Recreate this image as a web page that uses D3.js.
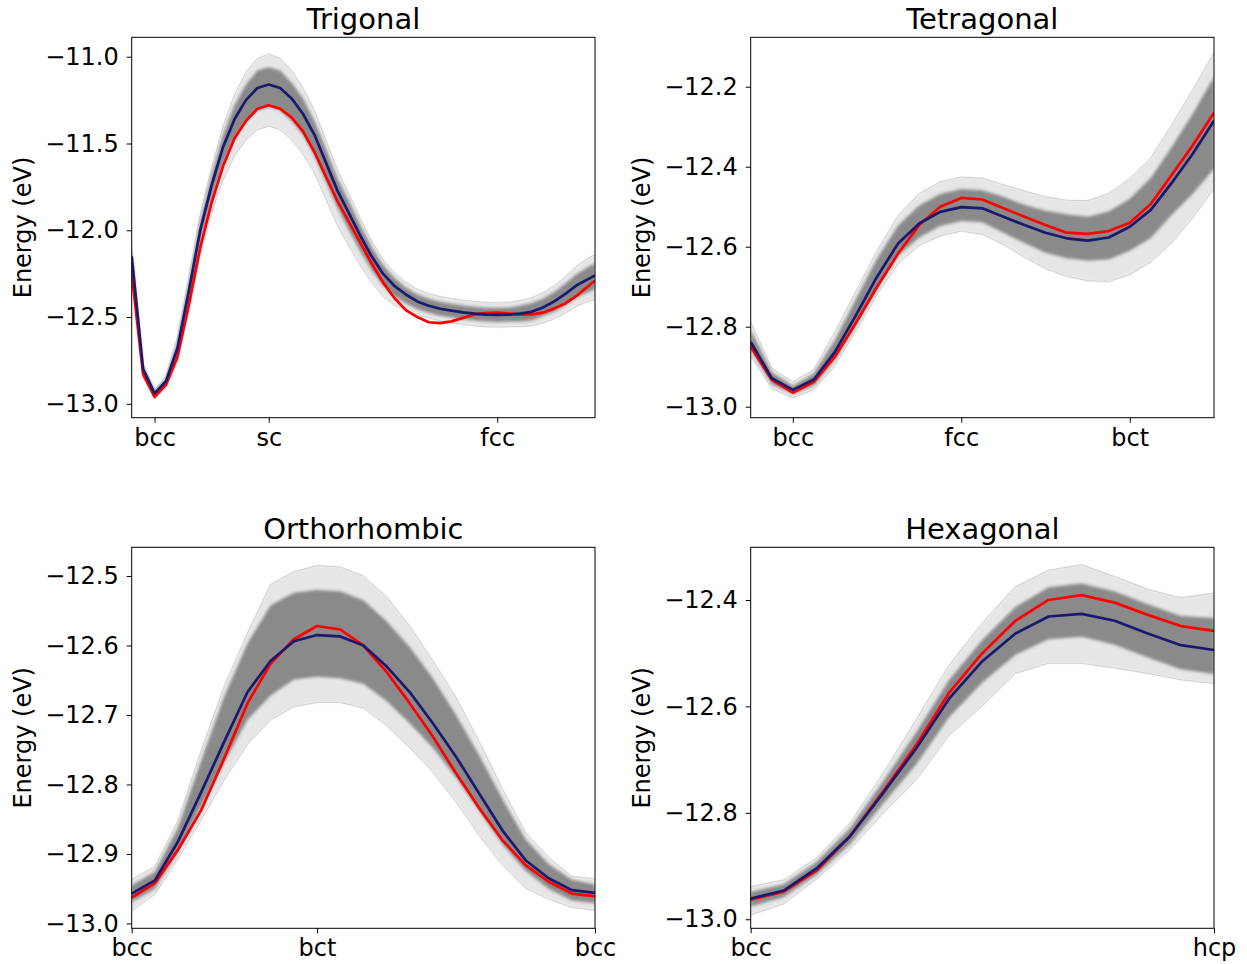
<!DOCTYPE html>
<html><head><meta charset="utf-8">
<script src="https://cdn.jsdelivr.net/npm/d3@7"></script>
<style>
html,body{margin:0;padding:0;background:#fff;}
svg{display:block;font-family:"DejaVu Sans",sans-serif;}
</style></head><body>
<svg id="chart" width="1247" height="964"></svg>
<script>
// ---------- Trigonal ----------
const trigX = d3.range(41).concat([40.56]);
const trigTickPos = [2, 12, 32];
const trigTickLabels = ["bcc", "sc", "fcc"];
const trigYTicks = [-13.0, -12.5, -12.0, -11.5, -11.0];
const trigMean = [-12.15,-12.80,-12.94,-12.87,-12.68,-12.35,-12.00,-11.74,-11.52,-11.36,-11.25,-11.18,-11.16,-11.18,-11.24,-11.33,-11.45,-11.61,-11.77,-11.90,-12.03,-12.15,-12.25,-12.32,-12.37,-12.41,-12.435,-12.452,-12.463,-12.473,-12.48,-12.486,-12.488,-12.486,-12.48,-12.47,-12.445,-12.41,-12.365,-12.315,-12.28,-12.26];
const trigRef = [-12.25,-12.83,-12.96,-12.89,-12.73,-12.43,-12.10,-11.84,-11.63,-11.47,-11.37,-11.30,-11.28,-11.30,-11.35,-11.43,-11.55,-11.69,-11.83,-11.95,-12.07,-12.19,-12.30,-12.39,-12.46,-12.50,-12.53,-12.535,-12.525,-12.505,-12.485,-12.477,-12.475,-12.48,-12.485,-12.485,-12.475,-12.45,-12.42,-12.375,-12.32,-12.29];
const trigUpOuter = [0.06,0.03,0.02,0.03,0.06,0.08,0.09,0.10,0.12,0.14,0.16,0.17,0.175,0.17,0.16,0.15,0.14,0.13,0.12,0.11,0.10,0.09,0.08,0.075,0.07,0.07,0.07,0.07,0.07,0.07,0.07,0.07,0.07,0.07,0.075,0.08,0.085,0.09,0.10,0.11,0.12,0.12];
const trigUpInner = [0.03,0.015,0.01,0.015,0.03,0.04,0.05,0.06,0.07,0.08,0.09,0.10,0.10,0.10,0.09,0.09,0.08,0.08,0.07,0.07,0.06,0.055,0.05,0.045,0.04,0.04,0.04,0.04,0.04,0.04,0.04,0.04,0.04,0.04,0.045,0.05,0.05,0.055,0.06,0.065,0.07,0.07];
const trigLoInner = [0.05,0.02,0.015,0.02,0.04,0.06,0.07,0.08,0.10,0.11,0.12,0.13,0.13,0.13,0.13,0.12,0.12,0.11,0.10,0.10,0.09,0.08,0.07,0.06,0.05,0.045,0.04,0.04,0.04,0.04,0.04,0.04,0.04,0.04,0.045,0.05,0.05,0.06,0.065,0.07,0.075,0.08];
const trigLoOuter = [0.10,0.04,0.03,0.04,0.08,0.12,0.14,0.16,0.19,0.21,0.23,0.24,0.24,0.24,0.24,0.23,0.22,0.21,0.20,0.19,0.17,0.15,0.13,0.11,0.09,0.08,0.07,0.07,0.07,0.07,0.07,0.07,0.07,0.07,0.075,0.08,0.09,0.10,0.11,0.12,0.13,0.14];

// ---------- Tetragonal ----------
const tetX = d3.range(23);
const tetTickPos = [2, 10, 18];
const tetTickLabels = ["bcc", "fcc", "bct"];
const tetYTicks = [-13.0, -12.8, -12.6, -12.4, -12.2];
const tetMean = [-12.838,-12.929,-12.958,-12.932,-12.863,-12.771,-12.675,-12.592,-12.542,-12.513,-12.501,-12.504,-12.525,-12.546,-12.565,-12.579,-12.585,-12.577,-12.55,-12.508,-12.44,-12.367,-12.285];
const tetRef = [-12.85,-12.933,-12.965,-12.938,-12.875,-12.79,-12.70,-12.617,-12.546,-12.50,-12.478,-12.482,-12.504,-12.525,-12.546,-12.565,-12.568,-12.561,-12.54,-12.493,-12.42,-12.346,-12.265];
const tetUpOuter = [0.05,0.025,0.02,0.025,0.05,0.06,0.065,0.07,0.075,0.075,0.075,0.075,0.08,0.085,0.09,0.095,0.10,0.11,0.12,0.13,0.145,0.16,0.17];
const tetUpInner = [0.03,0.015,0.01,0.015,0.03,0.04,0.045,0.045,0.045,0.045,0.045,0.045,0.05,0.05,0.055,0.06,0.06,0.065,0.07,0.08,0.09,0.10,0.11];
const tetLoInner = [0.02,0.015,0.01,0.015,0.02,0.025,0.03,0.03,0.035,0.035,0.035,0.035,0.04,0.045,0.05,0.05,0.05,0.055,0.06,0.07,0.08,0.10,0.12];
const tetLoOuter = [0.035,0.025,0.02,0.025,0.035,0.04,0.045,0.05,0.055,0.06,0.06,0.065,0.07,0.08,0.09,0.095,0.10,0.11,0.12,0.13,0.15,0.16,0.17];

// ---------- Orthorhombic ----------
const orthoX = d3.range(21);
const orthoTickPos = [0, 8, 20];
const orthoTickLabels = ["bcc", "bct", "bcc"];
const orthoYTicks = [-13.0, -12.9, -12.8, -12.7, -12.6, -12.5];
const orthoMean = [-12.957,-12.938,-12.882,-12.811,-12.738,-12.667,-12.622,-12.594,-12.585,-12.587,-12.60,-12.63,-12.667,-12.712,-12.76,-12.813,-12.866,-12.909,-12.935,-12.952,-12.956];
const orthoRef = [-12.963,-12.942,-12.894,-12.837,-12.762,-12.683,-12.626,-12.591,-12.572,-12.577,-12.60,-12.638,-12.683,-12.731,-12.784,-12.834,-12.88,-12.916,-12.94,-12.957,-12.961];
const orthoUpOuter = [0.02,0.02,0.03,0.06,0.08,0.085,0.11,0.10,0.10,0.10,0.10,0.10,0.095,0.09,0.085,0.075,0.06,0.04,0.03,0.02,0.02];
const orthoUpInner = [0.012,0.012,0.02,0.045,0.065,0.07,0.08,0.07,0.065,0.065,0.065,0.065,0.065,0.065,0.06,0.055,0.045,0.03,0.02,0.015,0.012];
const orthoLoInner = [0.012,0.012,0.015,0.02,0.03,0.04,0.05,0.055,0.06,0.06,0.055,0.05,0.045,0.035,0.03,0.025,0.02,0.015,0.015,0.015,0.015];
const orthoLoOuter = [0.025,0.02,0.025,0.04,0.055,0.075,0.085,0.094,0.097,0.095,0.09,0.085,0.08,0.07,0.065,0.06,0.05,0.04,0.03,0.025,0.025];

// ---------- Hexagonal ----------
const hexX = d3.range(15);
const hexTickPos = [0, 14];
const hexTickLabels = ["bcc", "hcp"];
const hexYTicks = [-13.0, -12.8, -12.6, -12.4];
const hexMean = [-12.961,-12.946,-12.904,-12.844,-12.763,-12.679,-12.585,-12.515,-12.463,-12.431,-12.426,-12.439,-12.463,-12.485,-12.494];
const hexRef = [-12.963,-12.948,-12.908,-12.844,-12.76,-12.673,-12.574,-12.50,-12.439,-12.40,-12.391,-12.405,-12.428,-12.449,-12.458];
const hexUpOuter = [0.022,0.02,0.02,0.025,0.037,0.054,0.063,0.072,0.088,0.087,0.092,0.083,0.083,0.089,0.107];
const hexUpInner = [0.012,0.012,0.012,0.015,0.022,0.03,0.035,0.04,0.05,0.055,0.057,0.055,0.055,0.055,0.06];
const hexLoInner = [0.015,0.012,0.012,0.015,0.02,0.03,0.035,0.04,0.04,0.043,0.043,0.045,0.045,0.045,0.045];
const hexLoOuter = [0.031,0.025,0.02,0.025,0.038,0.059,0.069,0.084,0.075,0.088,0.093,0.089,0.075,0.065,0.063];

const titles = ["Trigonal", "Tetragonal", "Orthorhombic", "Hexagonal"];
const yLabel = "Energy (eV)";

// ---------- layout ----------
const svg = d3.select("#chart");
const defs = svg.append("defs");
const blur = defs.append("filter").attr("id", "soft")
  .attr("x", "-5%").attr("y", "-20%").attr("width", "110%").attr("height", "140%");
blur.append("feGaussianBlur").attr("stdDeviation", 1.6);
const blur2 = defs.append("filter").attr("id", "soft2")
  .attr("x", "-5%").attr("y", "-20%").attr("width", "110%").attr("height", "140%");
blur2.append("feGaussianBlur").attr("stdDeviation", 1.0);

const colLeft = [131.7, 750.7], colRight = [595, 1214];
const rowTop = [37.3, 547.3], rowBottom = [417.7, 928.3];

const panels = [
  {title: titles[0], xs: trigX, mean: trigMean, ref: trigRef, uo: trigUpOuter, ui: trigUpInner, li: trigLoInner, lo: trigLoOuter,
   xDomain: [0, 40.56], yDomain: [-13.080, -10.888], tickPos: trigTickPos, tickLabels: trigTickLabels, yTicks: trigYTicks, col: 0, row: 0},
  {title: titles[1], xs: tetX, mean: tetMean, ref: tetRef, uo: tetUpOuter, ui: tetUpInner, li: tetLoInner, lo: tetLoOuter,
   xDomain: [0, 22], yDomain: [-13.0275, -12.0765], tickPos: tetTickPos, tickLabels: tetTickLabels, yTicks: tetYTicks, col: 1, row: 0},
  {title: titles[2], xs: orthoX, mean: orthoMean, ref: orthoRef, uo: orthoUpOuter, ui: orthoUpInner, li: orthoLoInner, lo: orthoLoOuter,
   xDomain: [0, 20], yDomain: [-13.007, -12.4587], tickPos: orthoTickPos, tickLabels: orthoTickLabels, yTicks: orthoYTicks, col: 0, row: 1},
  {title: titles[3], xs: hexX, mean: hexMean, ref: hexRef, uo: hexUpOuter, ui: hexUpInner, li: hexLoInner, lo: hexLoOuter,
   xDomain: [0, 14], yDomain: [-13.017, -12.301], tickPos: hexTickPos, tickLabels: hexTickLabels, yTicks: hexYTicks, col: 1, row: 1}
];

const yFmt = d3.format(".1f");

panels.forEach((p, k) => {
  const L = colLeft[p.col], R = colRight[p.col], T = rowTop[p.row], B = rowBottom[p.row];
  const x = d3.scaleLinear().domain(p.xDomain).range([L, R]);
  const y = d3.scaleLinear().domain(p.yDomain).range([B, T]);
  const g = svg.append("g");
  const clipId = "clip" + k;
  defs.append("clipPath").attr("id", clipId).append("rect")
    .attr("x", L).attr("y", T).attr("width", R - L).attr("height", B - T);

  const pts = p.xs.map((xv, i) => ({
    x: xv, m: p.mean[i], r: p.ref[i],
    uo: p.mean[i] + p.uo[i], ui: p.mean[i] + p.ui[i],
    li: p.mean[i] - p.li[i], lo: p.mean[i] - p.lo[i]
  }));

  const plot = g.append("g").attr("clip-path", `url(#${clipId})`);

  const outer = d3.area().x(d => x(d.x)).y0(d => y(d.lo)).y1(d => y(d.uo));
  const inner = d3.area().x(d => x(d.x)).y0(d => y(d.li)).y1(d => y(d.ui));
  plot.append("path").datum(pts).attr("d", outer)
    .attr("fill", "#808080").attr("fill-opacity", 0.2).attr("filter", "url(#soft2)");
  ["uo", "lo"].forEach(key => {
    plot.append("path").datum(pts)
      .attr("d", d3.line().x(d => x(d.x)).y(d => y(d[key])))
      .attr("fill", "none").attr("stroke", "#c8c8c8").attr("stroke-width", 0.8);
  });
  plot.append("path").datum(pts).attr("d", inner)
    .attr("fill", "#7a7a7a").attr("fill-opacity", 0.85).attr("filter", "url(#soft)");

  plot.append("path").datum(pts)
    .attr("d", d3.line().x(d => x(d.x)).y(d => y(d.r)))
    .attr("fill", "none").attr("stroke", "#ff0000").attr("stroke-width", 2.7)
    .attr("stroke-linejoin", "round");
  plot.append("path").datum(pts)
    .attr("d", d3.line().x(d => x(d.x)).y(d => y(d.m)))
    .attr("fill", "none").attr("stroke", "#191970").attr("stroke-width", 2.7)
    .attr("stroke-linejoin", "round");

  // axes
  const ya = g.append("g").attr("transform", `translate(${L},0)`)
    .call(d3.axisLeft(y).tickValues(p.yTicks).tickFormat(yFmt).tickSize(5).tickPadding(8));
  const xa = g.append("g").attr("transform", `translate(0,${B})`)
    .call(d3.axisBottom(x).tickValues(p.tickPos).tickFormat((d, i) => p.tickLabels[i]).tickSize(5).tickPadding(6));
  [ya, xa].forEach(a => {
    a.select(".domain").remove();
    a.selectAll("line").attr("stroke", "#000").attr("stroke-width", 1);
    a.selectAll("text").attr("fill", "#000").style("font-size", "24px")
      .style("font-family", "'DejaVu Sans', sans-serif");
  });

  // frame
  g.append("rect").attr("x", L).attr("y", T).attr("width", R - L).attr("height", B - T)
    .attr("fill", "none").attr("stroke", "#000").attr("stroke-width", 1);

  // title
  g.append("text").attr("x", (L + R) / 2).attr("y", T - 8.5)
    .attr("text-anchor", "middle").style("font-size", "29px").attr("fill", "#000")
    .text(p.title);

  // y label
  g.append("text")
    .attr("transform", `translate(${L - 100.7},${(T + B) / 2}) rotate(-90)`)
    .attr("text-anchor", "middle").style("font-size", "24px").attr("fill", "#000")
    .text(yLabel);
});
</script>
</body></html>
